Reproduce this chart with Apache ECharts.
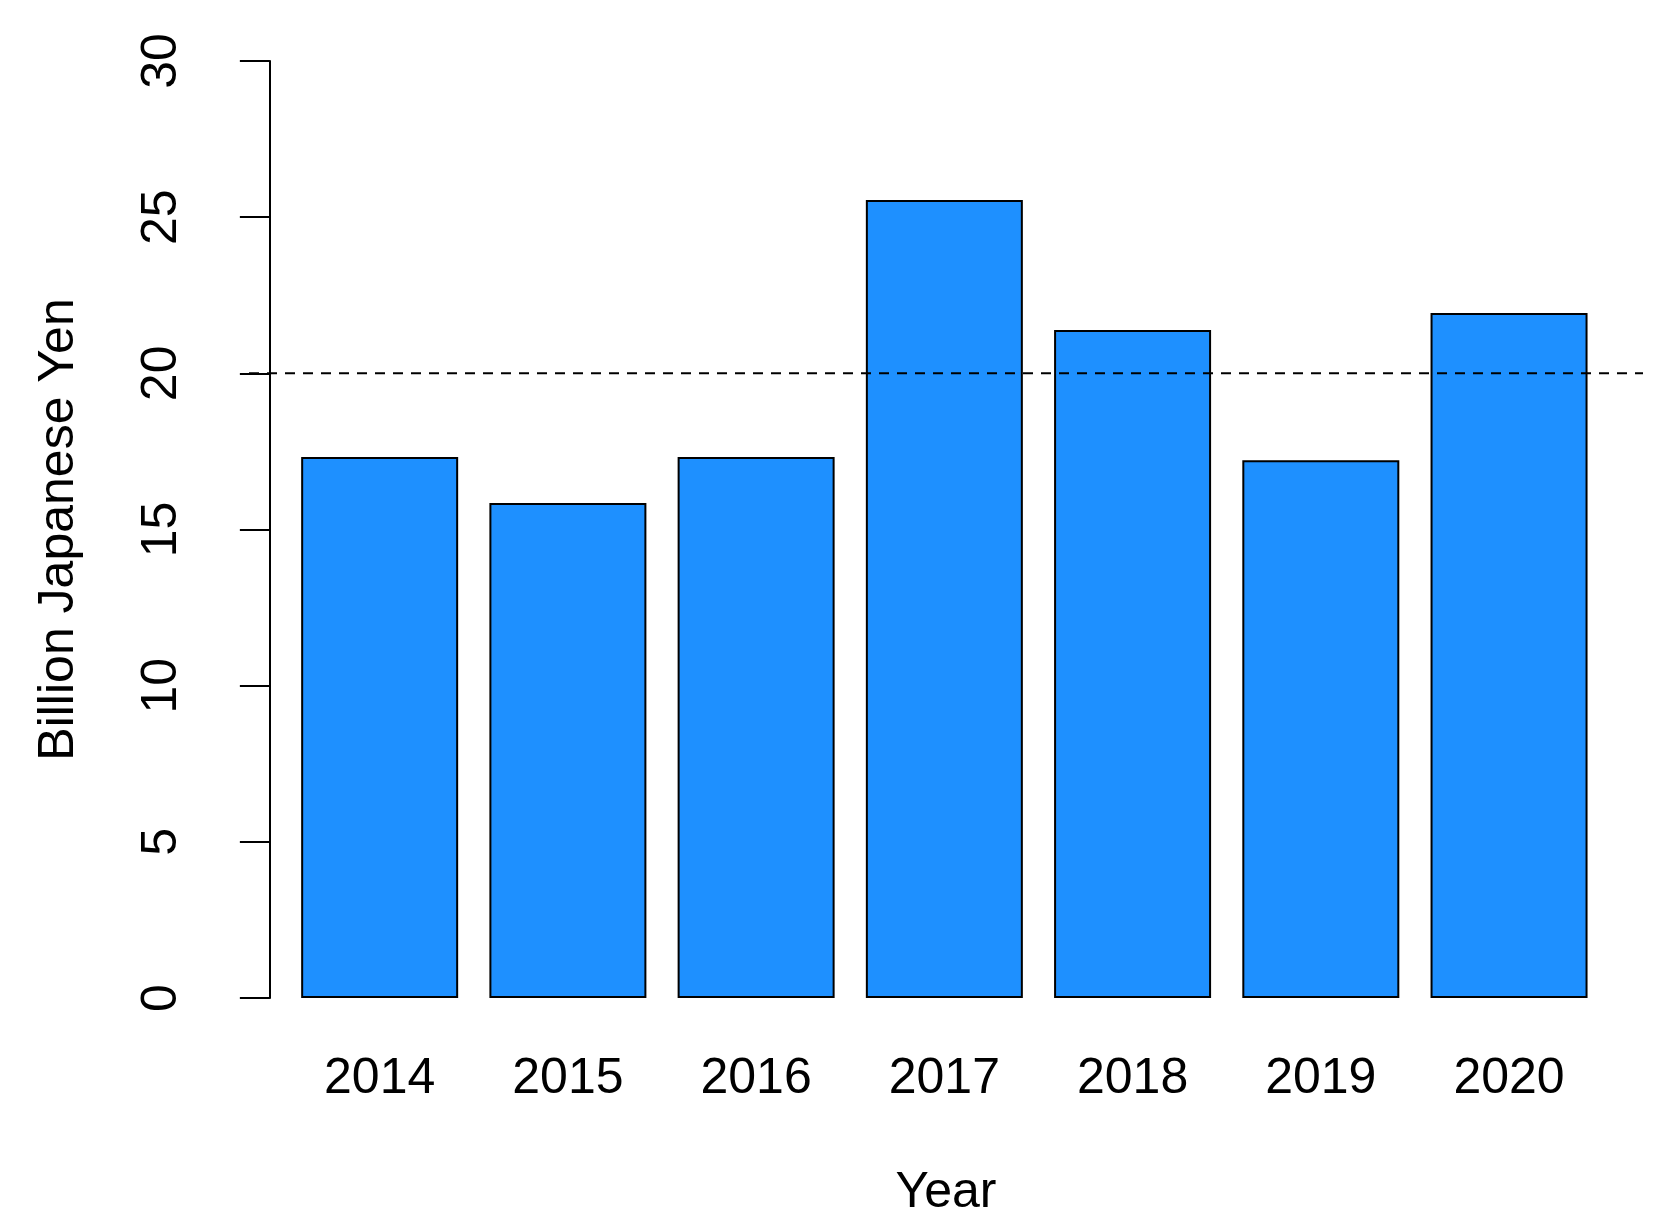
<!DOCTYPE html>
<html>
<head>
<meta charset="utf-8">
<script src="https://cdn.jsdelivr.net/npm/echarts@6/dist/echarts.min.js"></script>
<style>html,body{margin:0;background:#fff}#chart{width:1665px;height:1230px}</style>
</head>
<body>
<div id="chart"></div>
<script>
var years = ['2014', '2015', '2016', '2017', '2018', '2019', '2020'];
var values = [17.32, 15.85, 17.32, 25.55, 21.39, 17.22, 21.93];
var barCenters = [0.7, 1.9, 3.1, 4.3, 5.5, 6.7, 7.9];
var yTicks = [0, 5, 10, 15, 20, 25, 30];
var refLine = 20;

var font = 'Liberation Sans';
var chart = echarts.init(document.getElementById('chart'));
chart.setOption({
    animation: false,
    grid: {left: 249, right: 22, top: 61, bottom: 232},
    xAxis: {
        type: 'value', min: -0.133, max: 8.754,
        splitLine: {show: false},
        axisLine: {show: false},
        axisTick: {show: false},
        axisLabel: {
            customValues: barCenters,
            margin: 56,
            fontFamily: font, fontSize: 50, color: '#000',
            formatter: function (v) {
                var i = barCenters.findIndex(function (c) { return Math.abs(c - v) < 1e-6; });
                return i >= 0 ? years[i] : '';
            }
        },
        name: 'Year', nameLocation: 'middle', nameGap: 170,
        nameTextStyle: {fontFamily: font, fontSize: 50, color: '#000'}
    },
    yAxis: {
        type: 'value', min: 0, max: 30, interval: 5,
        splitLine: {show: false},
        axisLine: {show: true, lineStyle: {color: '#000', width: 2}},
        axisTick: {show: true, length: 30, lineStyle: {color: '#000', width: 2}},
        axisLabel: {
            rotate: 90, margin: 62,
            fontFamily: font, fontSize: 50, color: '#000',
            formatter: function (v) { return yTicks.indexOf(v) >= 0 ? String(v) : ''; }
        },
        name: 'Billion Japanese Yen', nameLocation: 'middle', nameGap: 165,
        nameTextStyle: {fontFamily: font, fontSize: 50, color: '#000'}
    },
    series: [
        {
            type: 'bar',
            data: barCenters.map(function (c, i) { return [c, values[i]]; }),
            barWidth: 157,
            itemStyle: {color: '#1E90FF', borderColor: '#000', borderWidth: 2}
        },
        {
            type: 'line',
            data: [[-0.133, refLine], [8.754, refLine]],
            symbol: 'none',
            lineStyle: {color: '#000', width: 2, type: [10, 8]},
            z: 5
        }
    ]
});
</script>
</body>
</html>
